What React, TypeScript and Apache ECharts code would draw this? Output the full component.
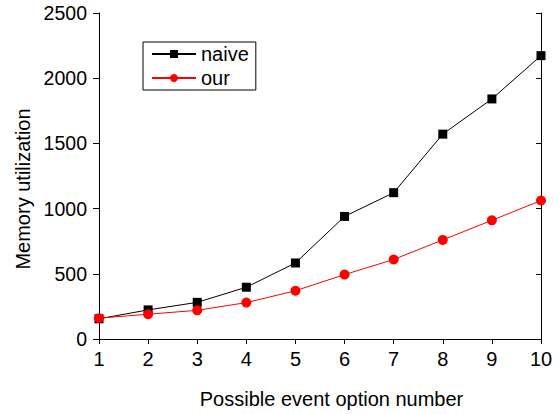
import React, { useEffect, useRef } from "react";
import * as echarts from "echarts";

const xValues = [1, 2, 3, 4, 5, 6, 7, 8, 9, 10];
const naiveValues = [155, 223, 281, 397, 583, 940, 1122, 1571, 1841, 2173];
const ourValues = [160, 190, 220, 279, 370, 494, 610, 760, 910, 1062];
const seriesNames = ["naive", "our"];

const FONT = "Liberation Sans, Arial, sans-serif";

export default function App() {
  const ref = useRef<HTMLDivElement>(null);
  useEffect(() => {
    if (!ref.current) return;
    const chart = echarts.init(ref.current, undefined, { renderer: "svg" });
    const axisLine = { show: true, lineStyle: { color: "#000", width: 1 } };
    chart.setOption({
      animation: false,
      backgroundColor: "#fff",
      textStyle: { fontFamily: FONT },
      grid: { left: 99, right: 18, top: 13, bottom: 72 },
      legend: {
        orient: "vertical",
        left: 143,
        top: 42,
        data: seriesNames,
        itemWidth: 44,
        itemHeight: 10,
        itemGap: 4,
        padding: [2, 7, 2, 8],
        borderColor: "#000",
        borderWidth: 1,
        textStyle: { fontSize: 20, color: "#000", fontFamily: FONT },
      },
      xAxis: [
        {
          type: "value",
          min: 1,
          max: 10,
          interval: 1,
          name: "Possible event option number",
          nameLocation: "middle",
          nameGap: 50,
          nameTextStyle: { fontSize: 20, color: "#000", fontFamily: FONT, padding: [0, 0, 0, 23] },
          axisLine,
          axisTick: { show: true, inside: false, length: 5, lineStyle: { color: "#000" } },
          axisLabel: { fontSize: 20, color: "#000", margin: 10, fontFamily: FONT },
          splitLine: { show: false },
        },
        {
          type: "value",
          position: "top",
          min: 1,
          max: 10,
          interval: 1,
          axisLine,
          axisTick: { show: true, inside: true, length: 4, lineStyle: { color: "#000" } },
          axisLabel: { show: false },
          splitLine: { show: false },
        },
      ],
      yAxis: [
        {
          type: "value",
          min: 0,
          max: 2500,
          interval: 500,
          name: "Memory utilization",
          nameLocation: "middle",
          nameGap: 64,
          nameTextStyle: { fontSize: 20, color: "#000", fontFamily: FONT, padding: [0, 26, 0, 0] },
          axisLine,
          axisTick: { show: true, inside: false, length: 6, lineStyle: { color: "#000" } },
          axisLabel: {
            fontSize: 19.5,
            color: "#000",
            margin: 12,
            fontFamily: FONT,
            formatter: (v: number) => String(v),
          },
          splitLine: { show: false },
        },
        {
          type: "value",
          position: "right",
          min: 0,
          max: 2500,
          interval: 500,
          axisLine,
          axisTick: { show: true, inside: true, length: 5, lineStyle: { color: "#000" } },
          axisLabel: { show: false },
          splitLine: { show: false },
        },
      ],
      series: [
        {
          name: seriesNames[0],
          type: "line",
          data: xValues.map((x, i) => [x, naiveValues[i]]),
          symbol: "rect",
          symbolSize: 9,
          itemStyle: { color: "#000" },
          lineStyle: { color: "#000", width: 1 },
        },
        {
          name: seriesNames[1],
          type: "line",
          data: xValues.map((x, i) => [x, ourValues[i]]),
          symbol: "circle",
          symbolSize: 10,
          itemStyle: { color: "#ff0000" },
          lineStyle: { color: "#ff0000", width: 1 },
        },
      ],
    });
    return () => chart.dispose();
  }, []);
  return <div ref={ref} style={{ width: 559, height: 414, position: "absolute", left: 0, top: 0 }} />;
}
